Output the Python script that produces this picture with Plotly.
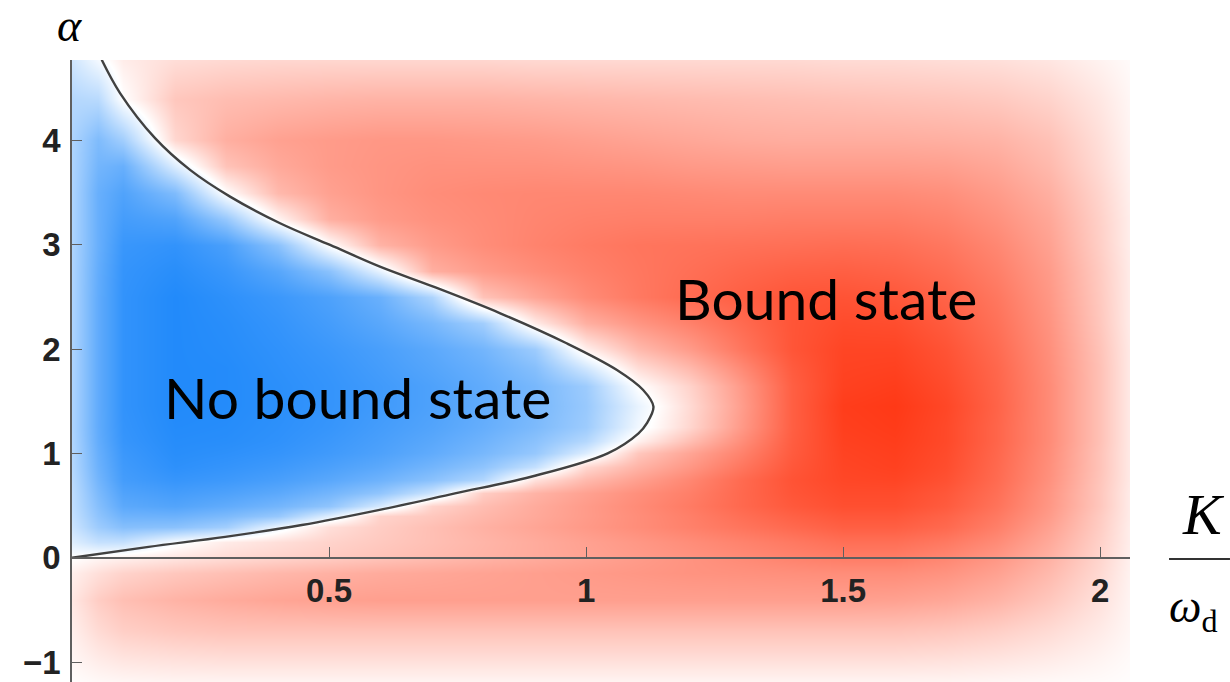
import plotly.graph_objects as go

# ---------------- data ----------------
K_GRID = [0.0, 0.05, 0.1, 0.2, 0.3, 0.4, 0.5, 0.6, 0.7, 0.8, 0.9, 1.0,
          1.1, 1.2, 1.3, 1.4, 1.5, 1.6, 1.7, 1.8, 1.9, 2.0, 2.06]
ALPHA_GRID = [-1.2, -1.0, -0.7, -0.4, -0.15, 0.0, 0.15, 0.3, 0.4, 0.5, 0.62, 0.75,
              0.87, 1.0, 1.12, 1.25, 1.45, 1.65, 1.82, 2.0, 2.25, 2.5, 2.75, 3.0,
              3.25, 3.5, 3.75, 4.0, 4.4, 4.8]

# signed intensity (negative = no bound state, positive = bound state), one row per alpha
row_m120 = [0.01, 0.03, 0.04, 0.05, 0.05, 0.05, 0.05, 0.05, 0.05, 0.05, 0.05, 0.05, 0.05, 0.05, 0.05, 0.05, 0.05, 0.05, 0.05, 0.04, 0.03, 0.02, 0.01]
row_m100 = [0.04, 0.09, 0.12, 0.14, 0.15, 0.15, 0.15, 0.15, 0.15, 0.15, 0.15, 0.15, 0.15, 0.15, 0.15, 0.15, 0.15, 0.15, 0.14, 0.12, 0.09, 0.05, 0.02]
row_m070 = [0.08, 0.18, 0.24, 0.28, 0.30, 0.30, 0.30, 0.30, 0.30, 0.30, 0.30, 0.30, 0.30, 0.30, 0.30, 0.30, 0.30, 0.30, 0.28, 0.24, 0.18, 0.10, 0.04]
row_m040 = [0.12, 0.25, 0.32, 0.38, 0.42, 0.45, 0.47, 0.48, 0.48, 0.48, 0.48, 0.48, 0.48, 0.48, 0.48, 0.48, 0.48, 0.47, 0.44, 0.38, 0.28, 0.15, 0.05]
row_m015 = [0.08, 0.16, 0.22, 0.28, 0.32, 0.36, 0.39, 0.42, 0.44, 0.46, 0.48, 0.50, 0.52, 0.54, 0.55, 0.56, 0.57, 0.57, 0.54, 0.47, 0.35, 0.19, 0.06]
row_p000 = [0.00, 0.05, 0.08, 0.13, 0.18, 0.22, 0.26, 0.30, 0.34, 0.38, 0.42, 0.46, 0.50, 0.54, 0.58, 0.62, 0.65, 0.65, 0.60, 0.52, 0.39, 0.21, 0.07]
row_p015 = [-0.14, -0.25, -0.25, -0.03, 0.10, 0.16, 0.22, 0.27, 0.32, 0.37, 0.42, 0.47, 0.52, 0.57, 0.62, 0.67, 0.72, 0.72, 0.67, 0.58, 0.43, 0.23, 0.08]
row_p030 = [-0.22, -0.42, -0.52, -0.50, -0.40, -0.08, 0.16, 0.25, 0.32, 0.39, 0.45, 0.51, 0.57, 0.63, 0.69, 0.75, 0.80, 0.80, 0.75, 0.64, 0.47, 0.25, 0.08]
row_p040 = [-0.25, -0.48, -0.62, -0.63, -0.56, -0.45, -0.14, 0.22, 0.28, 0.36, 0.43, 0.50, 0.57, 0.64, 0.72, 0.79, 0.84, 0.84, 0.78, 0.67, 0.50, 0.26, 0.09]
row_p050 = [-0.27, -0.52, -0.70, -0.74, -0.68, -0.60, -0.48, -0.18, 0.22, 0.33, 0.42, 0.50, 0.58, 0.66, 0.75, 0.83, 0.88, 0.88, 0.82, 0.70, 0.52, 0.28, 0.09]
row_p062 = [-0.28, -0.56, -0.75, -0.80, -0.76, -0.70, -0.60, -0.47, -0.22, 0.25, 0.38, 0.47, 0.56, 0.64, 0.75, 0.85, 0.90, 0.90, 0.84, 0.72, 0.53, 0.28, 0.09]
row_p075 = [-0.30, -0.60, -0.80, -0.86, -0.83, -0.78, -0.71, -0.62, -0.50, -0.33, 0.15, 0.35, 0.48, 0.60, 0.74, 0.86, 0.92, 0.93, 0.87, 0.74, 0.55, 0.29, 0.10]
row_p087 = [-0.32, -0.63, -0.82, -0.90, -0.87, -0.83, -0.77, -0.70, -0.60, -0.48, -0.25, 0.20, 0.38, 0.52, 0.68, 0.84, 0.93, 0.95, 0.89, 0.75, 0.56, 0.30, 0.10]
row_p100 = [-0.33, -0.65, -0.84, -0.92, -0.90, -0.87, -0.82, -0.76, -0.68, -0.58, -0.45, -0.15, 0.28, 0.45, 0.62, 0.82, 0.94, 0.96, 0.90, 0.76, 0.57, 0.30, 0.10]
row_p112 = [-0.34, -0.67, -0.86, -0.93, -0.92, -0.89, -0.84, -0.78, -0.71, -0.62, -0.50, -0.32, 0.07, 0.32, 0.56, 0.81, 0.95, 0.97, 0.91, 0.77, 0.58, 0.31, 0.10]
row_p125 = [-0.35, -0.68, -0.87, -0.94, -0.93, -0.90, -0.86, -0.80, -0.74, -0.66, -0.56, -0.42, -0.06, 0.20, 0.50, 0.80, 0.96, 0.98, 0.91, 0.77, 0.58, 0.31, 0.10]
row_p145 = [-0.35, -0.68, -0.88, -0.95, -0.94, -0.91, -0.87, -0.82, -0.76, -0.68, -0.58, -0.44, -0.10, 0.18, 0.48, 0.80, 0.97, 0.99, 0.92, 0.78, 0.58, 0.31, 0.10]
row_p165 = [-0.35, -0.68, -0.88, -0.95, -0.94, -0.91, -0.87, -0.82, -0.76, -0.68, -0.58, -0.42, 0.00, 0.22, 0.50, 0.80, 0.95, 0.97, 0.90, 0.77, 0.58, 0.31, 0.10]
row_p182 = [-0.35, -0.68, -0.88, -0.95, -0.94, -0.90, -0.86, -0.80, -0.73, -0.65, -0.52, -0.20, 0.17, 0.35, 0.58, 0.82, 0.94, 0.95, 0.88, 0.76, 0.57, 0.31, 0.10]
row_p200 = [-0.35, -0.68, -0.88, -0.95, -0.93, -0.89, -0.84, -0.78, -0.70, -0.60, -0.42, 0.08, 0.35, 0.50, 0.68, 0.85, 0.93, 0.93, 0.86, 0.74, 0.56, 0.30, 0.10]
row_p225 = [-0.35, -0.68, -0.88, -0.95, -0.92, -0.87, -0.80, -0.71, -0.58, -0.40, 0.10, 0.40, 0.53, 0.63, 0.74, 0.85, 0.90, 0.89, 0.82, 0.71, 0.54, 0.28, 0.09]
row_p250 = [-0.35, -0.68, -0.88, -0.95, -0.90, -0.84, -0.76, -0.64, -0.35, 0.30, 0.45, 0.58, 0.67, 0.74, 0.80, 0.85, 0.86, 0.84, 0.78, 0.68, 0.52, 0.27, 0.09]
row_p275 = [-0.35, -0.67, -0.87, -0.92, -0.85, -0.72, -0.50, -0.10, 0.40, 0.50, 0.57, 0.63, 0.68, 0.72, 0.76, 0.79, 0.80, 0.78, 0.73, 0.64, 0.50, 0.26, 0.09]
row_p300 = [-0.35, -0.65, -0.85, -0.88, -0.78, -0.50, 0.00, 0.38, 0.50, 0.57, 0.62, 0.66, 0.69, 0.70, 0.71, 0.72, 0.73, 0.72, 0.68, 0.60, 0.47, 0.24, 0.08]
row_p325 = [-0.35, -0.65, -0.80, -0.75, -0.45, 0.05, 0.40, 0.50, 0.55, 0.58, 0.61, 0.63, 0.64, 0.64, 0.64, 0.65, 0.65, 0.65, 0.62, 0.55, 0.44, 0.23, 0.08]
row_p350 = [-0.35, -0.65, -0.75, -0.55, 0.00, 0.35, 0.47, 0.53, 0.57, 0.59, 0.60, 0.60, 0.60, 0.59, 0.58, 0.58, 0.58, 0.58, 0.56, 0.50, 0.40, 0.21, 0.07]
row_p375 = [-0.35, -0.60, -0.65, -0.15, 0.30, 0.43, 0.50, 0.53, 0.55, 0.55, 0.55, 0.54, 0.53, 0.51, 0.50, 0.49, 0.49, 0.49, 0.48, 0.44, 0.35, 0.18, 0.06]
row_p400 = [-0.35, -0.55, -0.40, 0.20, 0.40, 0.47, 0.50, 0.52, 0.52, 0.51, 0.50, 0.48, 0.46, 0.44, 0.42, 0.41, 0.41, 0.41, 0.40, 0.38, 0.31, 0.16, 0.05]
row_p440 = [-0.32, -0.30, 0.00, 0.28, 0.33, 0.35, 0.37, 0.38, 0.38, 0.38, 0.37, 0.36, 0.35, 0.34, 0.33, 0.32, 0.31, 0.30, 0.29, 0.27, 0.22, 0.12, 0.04]
row_p480 = [-0.20, -0.03, 0.10, 0.16, 0.18, 0.19, 0.19, 0.19, 0.19, 0.19, 0.18, 0.18, 0.18, 0.18, 0.18, 0.18, 0.17, 0.17, 0.16, 0.15, 0.12, 0.06, 0.02]

Z_ROWS = [row_m120, row_m100, row_m070, row_m040, row_m015, row_p000, row_p015,
          row_p030, row_p040, row_p050, row_p062, row_p075, row_p087, row_p100,
          row_p112, row_p125, row_p145, row_p165, row_p182, row_p200, row_p225,
          row_p250, row_p275, row_p300, row_p325, row_p350, row_p375, row_p400,
          row_p440, row_p480]

# critical boundary curve (K, alpha)
BOUNDARY_K = [0.0578, 0.0934, 0.1615, 0.2296, 0.3074, 0.4047, 0.502, 0.599, 0.703,
              0.833, 0.962, 1.060, 1.111, 1.131, 1.118, 1.102, 1.042, 0.893, 0.745,
              0.596, 0.447, 0.298, 0.149, 0.0]
BOUNDARY_ALPHA = [4.772, 4.453, 4.021, 3.717, 3.461, 3.206, 2.998, 2.790, 2.598,
                  2.343, 2.056, 1.800, 1.608, 1.448, 1.289, 1.193, 1.001, 0.777, 0.617,
                  0.457, 0.314, 0.201, 0.105, 0.0]

Y_TICKS = [-1, 0, 1, 2, 3, 4]
X_TICKS = [0.5, 1, 1.5, 2]
X_TICK_TEXT = ["0.5", "1", "1.5", "2"]

X_RANGE = [0.0, 2.058]
Y_RANGE = [-1.19, 4.77]

# ---------------- figure ----------------
AXIS_COLOR = "rgb(95,95,95)"
TICK_FONT = dict(family="Liberation Sans", size=33, color="#222222", weight="bold")

fig = go.Figure()
fig.add_trace(go.Heatmap(
    x=K_GRID, y=ALPHA_GRID, z=Z_ROWS, zmin=-1, zmax=1, zsmooth="best",
    colorscale=[[0.0, "rgb(22,132,250)"], [0.5, "rgb(255,255,255)"], [1.0, "rgb(255,55,20)"]],
    showscale=False, hoverinfo="skip"))
fig.add_trace(go.Scatter(
    x=BOUNDARY_K, y=BOUNDARY_ALPHA, mode="lines",
    line=dict(color="rgb(65,65,65)", width=2.4, shape="spline", smoothing=1.0),
    hoverinfo="skip", showlegend=False))

y0_frac = (0 - Y_RANGE[0]) / (Y_RANGE[1] - Y_RANGE[0])

fig.update_layout(
    width=1230, height=682, autosize=False,
    margin=dict(l=72, r=100, t=60, b=0),
    paper_bgcolor="white", plot_bgcolor="white", showlegend=False,
    xaxis=dict(range=X_RANGE, anchor="free", position=y0_frac, showgrid=False, zeroline=False,
               showline=True, linecolor=AXIS_COLOR, linewidth=1.6,
               ticks="inside", ticklen=10, tickwidth=1.4, tickcolor=AXIS_COLOR,
               tickvals=X_TICKS, ticktext=X_TICK_TEXT, tickfont=TICK_FONT, ticklabelstandoff=4),
    yaxis=dict(range=Y_RANGE, showgrid=False, zeroline=False,
               showline=True, linecolor=AXIS_COLOR, linewidth=1.6,
               ticks="inside", ticklen=10, tickwidth=1.4, tickcolor=AXIS_COLOR,
               tickvals=Y_TICKS, tickfont=TICK_FONT, ticklabelstandoff=3),
)

LABEL_FONT = dict(family="Lato", size=57, color="black")
fig.add_annotation(x=0.556, y=1.54, xref="x", yref="y", text="No bound state",
                   showarrow=False, font=LABEL_FONT, xanchor="center", yanchor="middle")
fig.add_annotation(x=1.467, y=2.49, xref="x", yref="y", text="Bound state",
                   showarrow=False, font=LABEL_FONT, xanchor="center", yanchor="middle")

SERIF = "Liberation Serif"
fig.add_annotation(x=-0.002, y=1.056, xref="paper", yref="paper", text="α",
                   showarrow=False, xanchor="center", yanchor="middle",
                   font=dict(family=SERIF, size=46, color="black", style="italic"))
fig.add_annotation(x=1.069, y=0.27, xref="paper", yref="paper", text="K",
                   showarrow=False, xanchor="center", yanchor="middle",
                   font=dict(family=SERIF, size=58, color="black", style="italic"))
fig.add_annotation(x=1.06, y=0.115, xref="paper", yref="paper", text="<i>ω</i><sub>d</sub>",
                   showarrow=False, xanchor="center", yanchor="middle",
                   font=dict(family=SERIF, size=46, color="black"))
fig.add_shape(type="line", xref="paper", yref="paper", x0=1.0369, x1=1.0945,
              y0=0.1977, y1=0.1977, line=dict(color="rgb(50,50,50)", width=2))

fig.write_html("out.html", config={"displayModeBar": False},
               post_script="document.body.style.margin='0px';")
